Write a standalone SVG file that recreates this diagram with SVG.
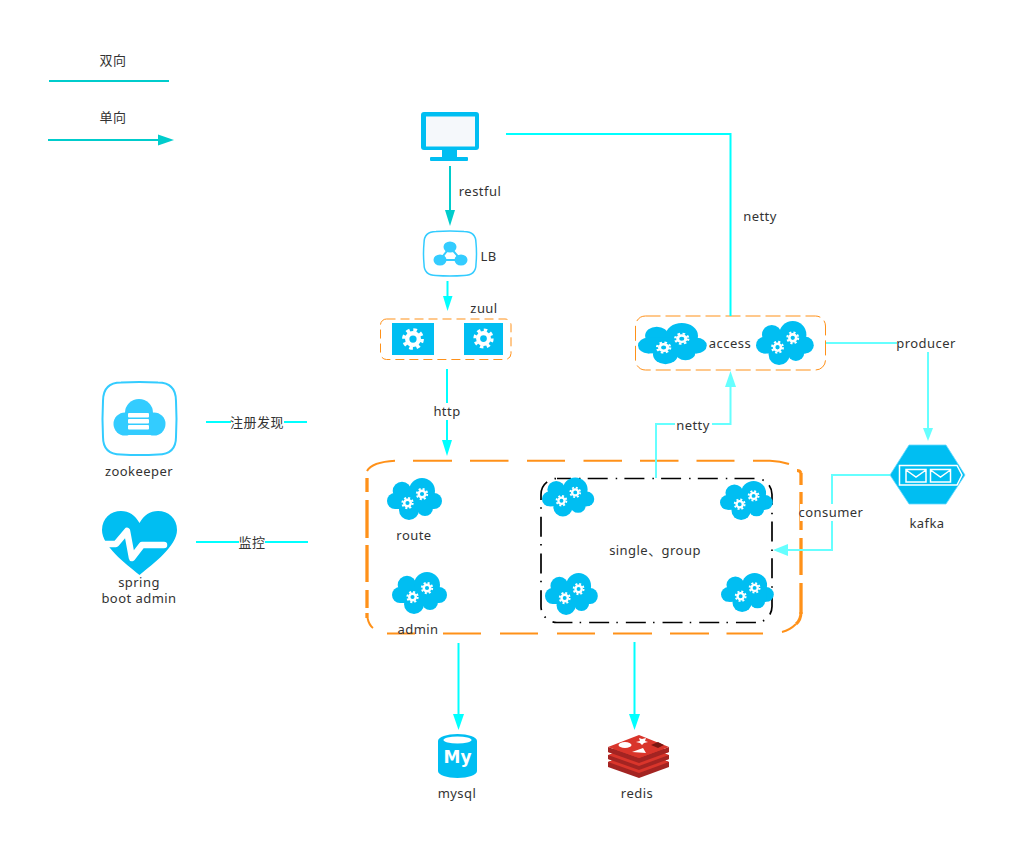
<svg xmlns="http://www.w3.org/2000/svg" xmlns:xlink="http://www.w3.org/1999/xlink" width="1027" height="865" viewBox="0 0 1027 865">
<style>
text{font-family:"Noto Sans","Noto Sans CJK SC",sans-serif;font-size:13px;fill:#333;text-anchor:middle;letter-spacing:.45px}
.blue{fill:#00bef2}
.sky{fill:#33ccff}
.teal{fill:none;stroke:#00cccc;stroke-width:2}
.cyan{fill:none;stroke:#00ffff;stroke-width:2}
.pale{fill:none;stroke:#66ffff;stroke-width:2}
.bg{fill:#fff}
.tealh{fill:#00cccc}.cyanh{fill:#00ffff}.paleh{fill:#66ffff}
.zone{fill:none;stroke:#ff9119}
.red{fill:#d9352b}.dark{fill:#a32422}
</style>
<defs>
<g id="gear">
<circle r="4" fill="none" stroke="#fff" stroke-width="3"/>
<circle r="6.300" fill="none" stroke="#fff" stroke-width="2.400" stroke-dasharray="2.500 2.450"/>
</g>
<g id="cloud">
<g class="blue">
<circle cx="15" cy="13" r="9.300"/><circle cx="35" cy="13" r="13"/><circle cx="8" cy="23" r="8"/><circle cx="47" cy="23" r="8"/><circle cx="22" cy="32" r="10"/><circle cx="38" cy="30" r="8"/><rect x="8" y="15" width="39" height="16"/>
</g>
<use href="#gear" transform="translate(20.500 25) scale(.82)"/>
<use href="#gear" transform="translate(35 16) scale(.82)"/>
</g>
</defs>
<rect width="1027" height="865" fill="#fff"/>

<g id="zones">
<g id="zone-main" class="zone">
<path stroke-width="2" fill="none" d="M367 471Q372 462 395 460.700M413 460.700H452M470 460.700H508.500M527 460.700H565M583.500 460.700H622M640 460.700H678.500M696.500 460.700H734.500M753 460.700H770Q780 461 789 464"/>
<path stroke-width="2" fill="none" d="M782 632Q790 630 796 624M763 633.500H726.500M709 633.500H670M652 633.500H613M595 633.500H557M538 633.500H500M481 633.500H443M415 633.500H387M373 628Q369 625 367.500 618"/>
<path stroke-width="3.300" fill="none" d="M367 478V492M367 500V538M367 545V582M367 590V608M367 613V618M801 473V485M801 492V530M801 538V575M801 583V614"/>
<path stroke-width="3" fill="none" d="M797 470.500Q800 470.500 801 473M801 612Q801 620 796 624"/>
</g>
<rect id="zone-single" x="541" y="478.500" width="231" height="144" rx="16" fill="none" stroke="#000" stroke-width="1.700" stroke-dasharray="20 8 1.500 7.200" stroke-dashoffset="6"/>
<rect id="zone-zuul" class="zone" x="380.500" y="319" width="130.500" height="40.500" rx="6" stroke-width="1" stroke-dasharray="9 5"/>
<rect id="zone-access" class="zone" x="635.500" y="316" width="190" height="54" rx="10" stroke-width="1" stroke-dasharray="15 5"/>
</g>

<g id="connectors">
<path class="teal" d="M49 81H169"/>
<path class="teal" d="M48 140H160"/><path class="tealh" d="M158 134.500L174 140L158 145.500Z"/>
<path class="cyan" d="M506 134H730.500V316"/>
<path class="teal" d="M450 166V212"/><path class="tealh" d="M445 210H455L450 226Z"/>
<path class="cyan" d="M447.500 281V298"/><path class="cyanh" d="M443 296H452.500L447.500 311Z"/>
<path class="cyan" d="M447 369V442"/><path class="cyanh" d="M442 440H452L447 456Z"/>
<path class="cyan" d="M206 422H307"/>
<path class="cyan" d="M196 542H308"/>
<path class="pale" d="M826 343H928V430"/><path class="paleh" d="M923 428H933L928 441Z"/>
<path class="pale" d="M656 478V424H730.500V386"/><path class="paleh" d="M725 387L730.500 371L736 387Z"/>
<path class="pale" d="M890 475H832V550H786"/><path class="paleh" d="M788 544V556L773 550Z"/>
<path class="cyan" d="M458.500 643V716"/><path class="cyanh" d="M453 714H464L458.500 730Z"/>
<path class="cyan" d="M634.500 642V716"/><path class="cyanh" d="M629 714H640L634.500 730Z"/>
<rect class="bg" x="231" y="414" width="53" height="17"/>
<rect class="bg" x="239" y="534" width="26" height="17"/>
<rect class="bg" x="432" y="403" width="30" height="17"/>
<rect class="bg" x="675" y="417" width="37" height="17"/>
<rect class="bg" x="897" y="335" width="58" height="17"/>
<rect class="bg" x="800" y="504" width="62" height="17"/>
<text x="113" y="65">双向</text>
<text x="113" y="122">单向</text>
<text x="480" y="196">restful</text>
<text x="760" y="221">netty</text>
<text x="447" y="416">http</text>
<text x="693" y="430">netty</text>
<text x="926" y="348">producer</text>
<text x="831" y="517">consumer</text>
<text x="257" y="427">注册发现</text>
<text x="252" y="547">监控</text>
</g>

<g id="client">
<rect class="blue" x="421" y="112" width="58" height="38" rx="3"/>
<rect x="426" y="116.500" width="49" height="30" fill="#f5f8fb"/>
<rect class="blue" x="442" y="150" width="15" height="8"/>
<rect class="blue" x="430" y="157" width="38" height="4" rx="1"/>
</g>

<g id="lb">
<path d="M436 231.500Q450 230.500 464 231.500Q476 231.500 476 243Q477 253.500 476 264Q476 275.500 464 275.500Q450 276.500 436 275.500Q424 275.500 424 264Q423 253.500 424 243Q424 231.500 436 231.500Z" fill="#fff" stroke="#33ccff" stroke-width="1.500"/>
<path d="M450 247L440 260H461Z" fill="none" stroke="#33ccff" stroke-width="2"/>
<ellipse class="sky" cx="450" cy="247" rx="6.500" ry="5.500"/>
<ellipse class="sky" cx="440" cy="260" rx="6.500" ry="5.500"/>
<ellipse class="sky" cx="461" cy="260" rx="6.500" ry="5.500"/>
<text x="488.500" y="261">LB</text>
</g>

<g id="zuul">
<rect class="blue" x="392" y="323" width="42" height="32"/>
<rect class="blue" x="464" y="323" width="39" height="32"/>
<use href="#gear" transform="translate(413 339) scale(1.450)"/>
<use href="#gear" transform="translate(483.500 338.500) scale(1.350)"/>
<text x="484" y="313">zuul</text>
</g>

<g id="access">
<use href="#cloud" transform="translate(638 323) scale(1.250 .98)"/>
<use href="#cloud" transform="translate(756 321) scale(1.050)"/>
<text x="730" y="348">access</text>
</g>

<g id="zookeeper">
<path d="M121 382.500Q139.500 381.500 158 382.500Q176 382.500 176 401Q177 418.500 176 437Q176 454.500 158 454.500Q139.500 455.500 121 454.500Q103 454.500 103 437Q102 418.500 103 401Q103 382.500 121 382.500Z" fill="#fff" stroke="#33ccff" stroke-width="2"/>
<g class="sky">
<circle cx="139" cy="413" r="14"/><circle cx="125" cy="424" r="11.500"/><circle cx="154" cy="424" r="11.500"/><rect x="125" y="415" width="29" height="20"/>
</g>
<g fill="#fff">
<rect x="128" y="413" width="21" height="4.500" rx="1"/><rect x="128" y="419" width="21" height="4.500" rx="1"/><rect x="128" y="425" width="21" height="4.500" rx="1"/>
</g>
<text x="139" y="476">zookeeper</text>
</g>

<g id="admin-monitor">
<path class="blue" d="M139.500 575C125 563 102 546 102 530C102 518 111 511 121 511C129 511 135 515 139.500 523C144 515 150 511 158 511C168 511 177 518 177 530C177 546 154 563 139.500 575Z"/>
<path d="M104 544H116L127 531L132 558L142 545H164" fill="none" stroke="#fff" stroke-width="6.500" stroke-linecap="round" stroke-linejoin="round"/>
<text x="139" y="587">spring</text>
<text x="139" y="603">boot admin</text>
</g>

<g id="route">
<use href="#cloud" x="387" y="478"/>
<text x="414" y="540">route</text>
</g>
<g id="admin">
<use href="#cloud" x="392" y="572"/>
<text x="418" y="634">admin</text>
</g>
<g id="single-group">
<use href="#cloud" transform="translate(542 477.500) scale(.95 .93)"/>
<use href="#cloud" transform="translate(720 481) scale(.96 .93)"/>
<use href="#cloud" transform="translate(545 573) scale(.96 1)"/>
<use href="#cloud" transform="translate(721 573) scale(.96 .93)"/>
<text x="655" y="555">single、group</text>
</g>

<g id="kafka">
<path class="blue" d="M890 475L909 445H946L965 475L946 504H909Z" stroke="#66d9ff" stroke-width=".8"/>
<path d="M899.500 465.500H957L962 475L957 485H899.500Z" fill="none" stroke="#fff" stroke-width="1.500"/>
<path d="M906 469.500H926V482H906ZM906 470L916 477L926 470M930.500 469.500H950.500V482H930.500ZM930.500 470L940.500 477L950.500 470" fill="none" stroke="#fff" stroke-width="1.500"/>
<text x="927" y="528">kafka</text>
</g>

<g id="mysql">
<path class="blue" d="M438 741C438 737 447 734 457.500 734C468 734 477 737 477 741V771C477 775 468 778 457.500 778C447 778 438 775 438 771Z"/>
<ellipse cx="457.500" cy="740" rx="14" ry="3.500" fill="#fff"/>
<text x="457.500" y="763" style="font-size:17px;font-weight:700;fill:#fff;font-family:'DejaVu Sans',sans-serif;letter-spacing:0">My</text>
<text x="457" y="798">mysql</text>
</g>

<g id="redis">
<path class="dark" d="M608 762L639 750L669 762V767L639 778L608 767Z"/>
<path class="red" d="M608 762L639 750L669 762L639 773Z"/>
<path class="red" d="M608 755V759L639 770L669 759V755L639 743Z"/>
<path class="dark" d="M608 755V759L639 770L669 759V755L639 766Z"/>
<path class="red" d="M608 751V752L639 763L669 752V751L639 739Z"/>
<path class="dark" d="M608 747V752L639 763L669 752V747L639 758Z"/>
<path class="red" d="M608 747L639 735L669 747L639 758Z"/>
<ellipse cx="625" cy="745" rx="6.500" ry="3" fill="#fff"/>
<path d="M632 752L643 748L646 753Z" fill="#fff"/>
<path d="M639 738L642 739L646 738L645 741L648 742L644 743L642 745L640 743L636 742L640 741Z" fill="#fff"/>
<path d="M651 745L658 742L664 745L658 748Z" fill="#7a1712"/>
<text x="637" y="798">redis</text>
</g>
</svg>
